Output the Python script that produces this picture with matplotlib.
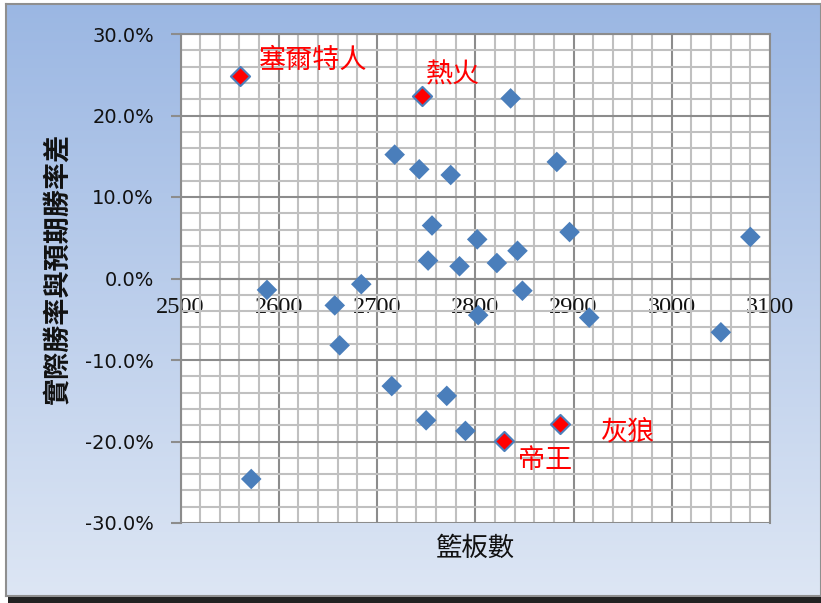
import numpy as np
import matplotlib
matplotlib.use("Agg")
import matplotlib.pyplot as plt
from matplotlib.ticker import MultipleLocator, FuncFormatter
from matplotlib.patches import Rectangle

# Team rebounds vs. (actual - expected) win percentage
rebounds = [2718, 2743, 2775, 2883, 2836, 2756, 2802, 2896, 3080, 2752,
            2784, 2822, 2843, 2684, 2588, 2848, 2657, 2803, 2916, 3050,
            2662, 2715, 2771, 2750, 2790, 2572]
win_diff = [15.2, 13.4, 12.7, 14.3, 22.1, 6.5, 4.8, 5.7, 5.1, 2.2,
            1.5, 1.9, 3.4, -0.7, -1.4, -1.5, -3.3, -4.5, -4.8, -6.6,
            -8.2, -13.2, -14.4, -17.4, -18.7, -24.6]

# Highlighted teams
team_names = ["塞爾特人", "熱火", "帝王", "灰狼"]
team_rebounds = [2561, 2746, 2829, 2886]
team_win_diff = [24.8, 22.4, -19.9, -17.9]
label_offsets = [(13, 11.5), (2.5, 15), (10, -14.5), (30, -5.8)]

x_ticks = [2500, 2600, 2700, 2800, 2900, 3000, 3100]
y_ticks = [-30, -20, -10, 0, 10, 20, 30]

CJK = ["Noto Sans CJK TC", "DejaVu Sans"]
W, H = 821, 603

fig = plt.figure(figsize=(W / 100, H / 100), dpi=100)
fig.patch.set_facecolor("white")

# Chart area with vertical gradient
bx0, by0, bx1, by1 = 6, 4, 821, 596
bg = fig.add_axes([bx0 / W, 1 - by1 / H, (bx1 - bx0) / W, (by1 - by0) / H], zorder=0)
top = np.array([155, 183, 227]) / 255
bot = np.array([221, 230, 244]) / 255
t = np.linspace(0, 1, 256)[:, None, None]
grad = top * (1 - t) + bot * t
grad = np.repeat(grad, 2, axis=1)
bg.imshow(grad, aspect="auto", extent=[0, 1, 0, 1], interpolation="bilinear")
bg.set_xlim(0, 1)
bg.set_ylim(0, 1)
bg.set_xticks([])
bg.set_yticks([])
for s in bg.spines.values():
    s.set_color("#8f8f8f")
    s.set_linewidth(1.5)

# dark strip along the bottom edge
fig.patches.append(Rectangle((8 / W, 0), 1 - 8 / W, 6 / H, transform=fig.transFigure,
                             facecolor="#222222", edgecolor="none", zorder=1))

# Plot area
L, R, T, B = 180.5, 770, 34, 523
ax = fig.add_axes([L / W, 1 - B / H, (R - L) / W, (B - T) / H], zorder=2)
ax.set_facecolor("white")

# horizontal axis crosses at y = 0 (set before styling ticks, it resets them)
for side in ["top", "right", "left"]:
    ax.spines[side].set_color("#8c8c8c")
    ax.spines[side].set_linewidth(1.5)
ax.spines["bottom"].set_position(("data", 0))
ax.spines["bottom"].set_color("#8c8c8c")
ax.spines["bottom"].set_linewidth(1.5)

ax.set_xlim(2500, 3100)
ax.set_ylim(-30, 30)
ax.xaxis.set_minor_locator(MultipleLocator(20))
ax.yaxis.set_minor_locator(MultipleLocator(2))

ax.grid(which="minor", color="#c0c0c0", linewidth=1.5, zorder=0)
ax.grid(which="major", color="#8c8c8c", linewidth=1.5, zorder=0)
ax.set_axisbelow(True)

ax.tick_params(axis="y", which="major", direction="out", length=7, width=1.5,
               color="#8c8c8c", pad=12, labelsize=14, labelcolor="#111111")
ax.tick_params(axis="y", which="minor", length=0)
ax.tick_params(axis="x", which="both", length=0, pad=13.5)

ax.set_yticks(y_ticks)
ax.yaxis.set_major_formatter(FuncFormatter(lambda v, p: f"{v:.1f}%"))
ax.set_xticks(x_ticks)
ax.set_xticklabels([str(v) for v in x_ticks], fontfamily="Liberation Serif",
                   fontsize=17.5, color="#111111")

# Scatter points
ax.scatter(rebounds, win_diff, marker="D", s=110, color="#4a7ebb",
           edgecolors="none", zorder=3, clip_on=False)
ax.scatter(team_rebounds, team_win_diff, marker="D", s=95, color="#ff0000",
           edgecolors="#4a7ebb", linewidths=1.5, zorder=4, clip_on=False)

for name, x, y, off in zip(team_names, team_rebounds, team_win_diff, label_offsets):
    ax.annotate(name, (x, y), xytext=off, textcoords="offset points",
                ha="left", va="center", color="#ff0000", fontsize=19.5,
                family=CJK, zorder=5)

ax.set_xlabel("籃板數", family=CJK, fontsize=19, color="#111111")
ax.xaxis.set_label_coords(0.5, -0.025)
ax.set_ylabel("實際勝率與預期勝率差", family=CJK, fontsize=19.5,
              fontweight="bold", color="#111111")
ax.yaxis.set_label_coords(-0.185, 0.52)

fig.savefig("out.png", dpi=100)
